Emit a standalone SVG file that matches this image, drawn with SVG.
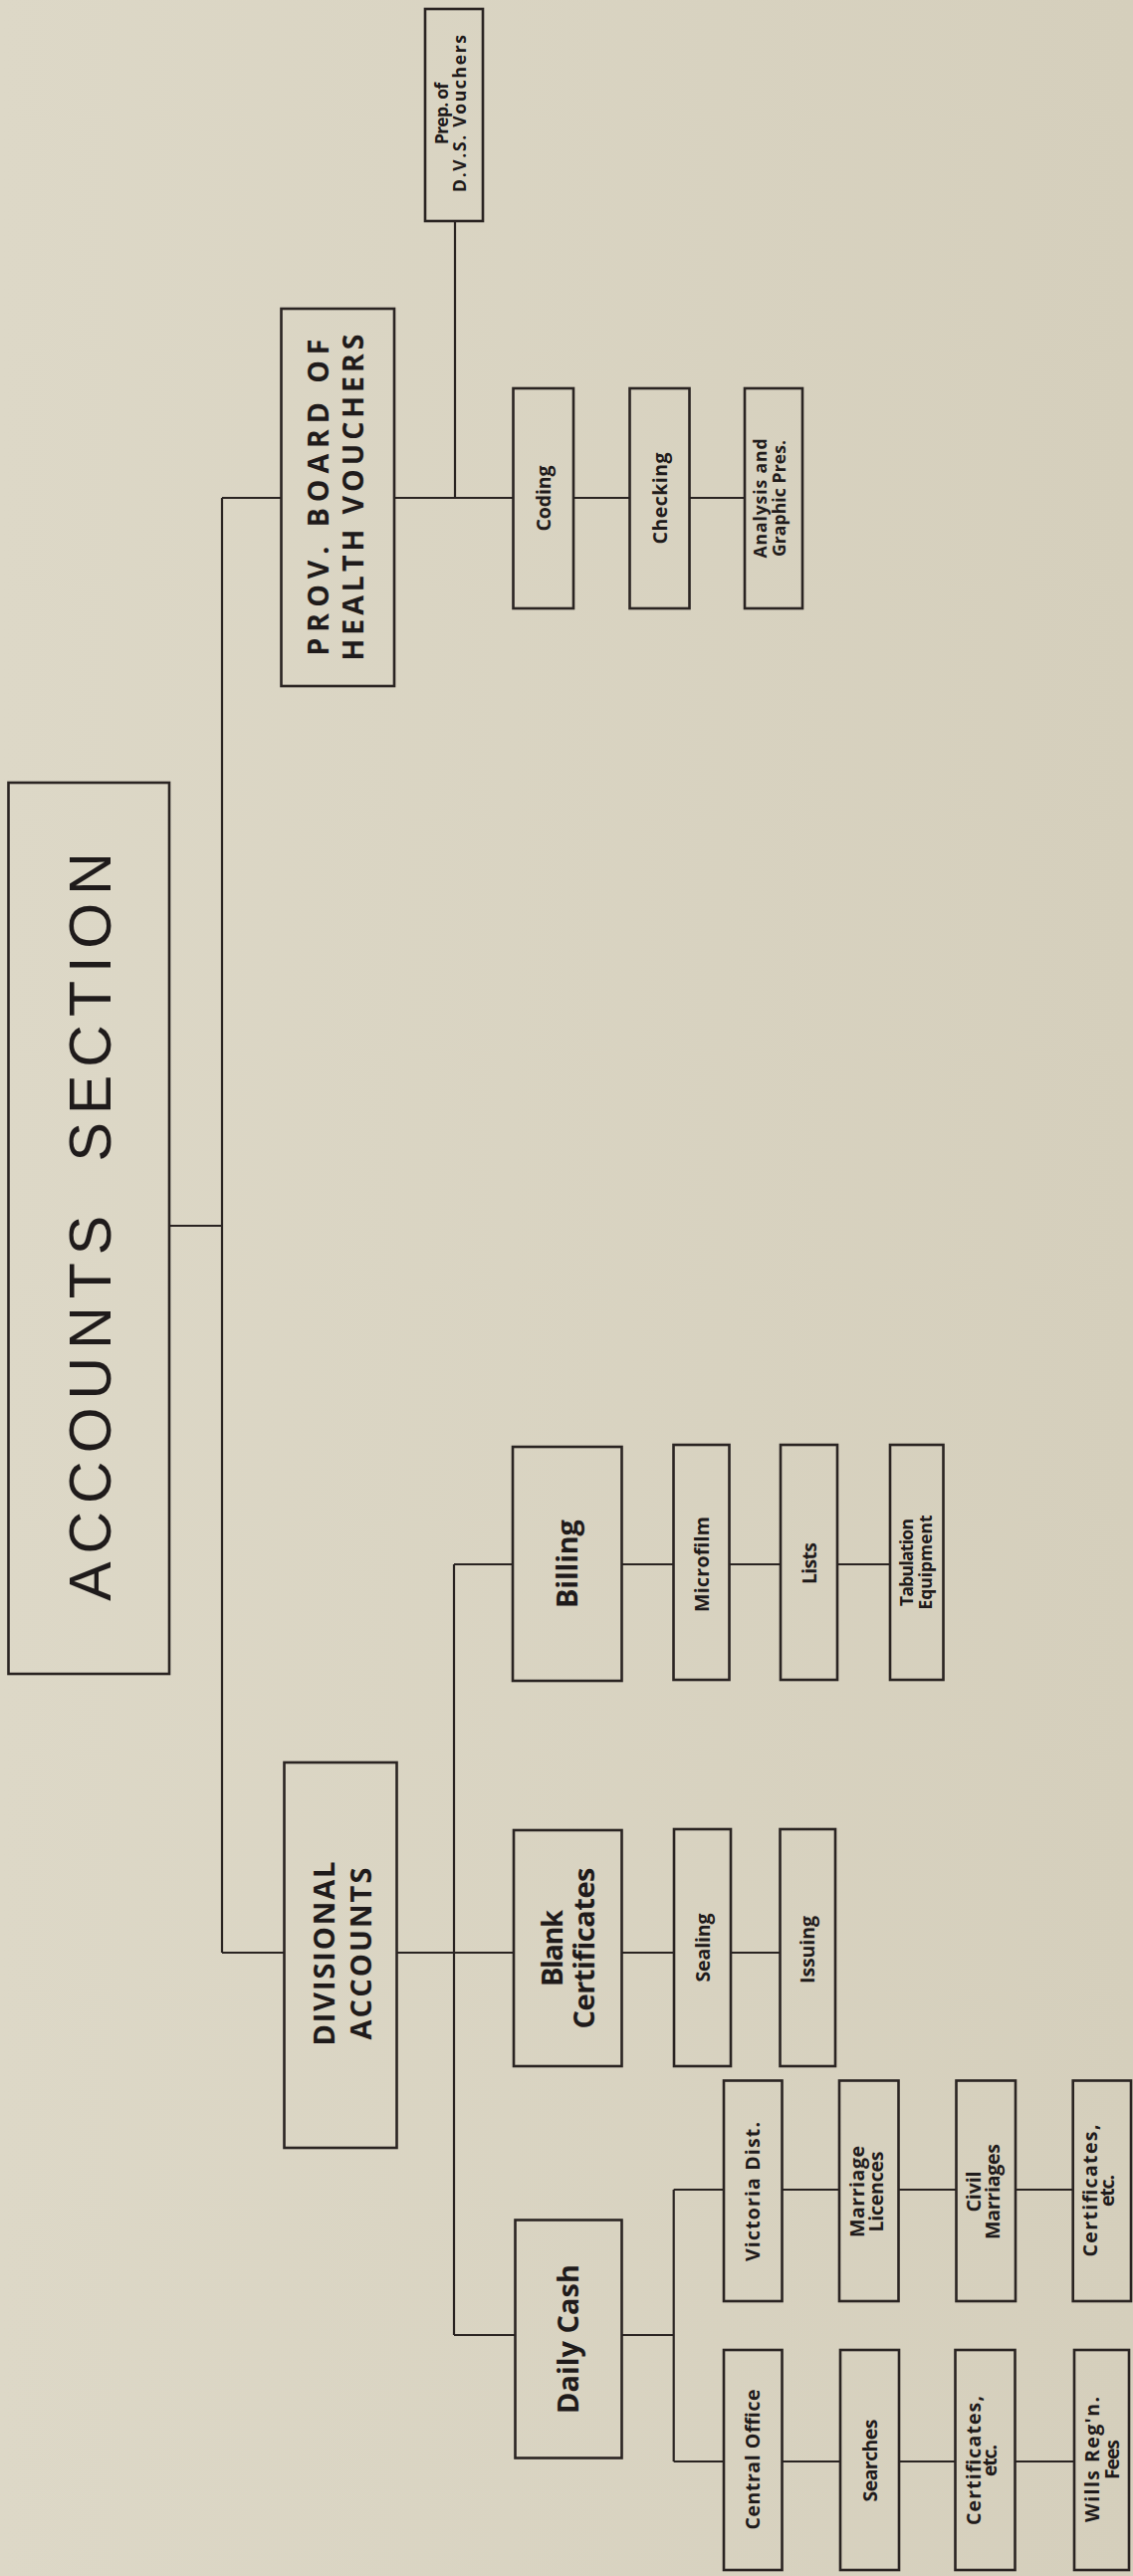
<svg xmlns="http://www.w3.org/2000/svg" width="1138" height="2587" viewBox="0 0 1138 2587">
<defs>
<linearGradient id="paper" x1="0" y1="0" x2="1" y2="0">
<stop offset="0" stop-color="#ddd8c7"/>
<stop offset="1" stop-color="#d5cfbc"/>
</linearGradient>
<style>
.box{fill:none;stroke:#2a2422;stroke-width:2.6}
.ln{fill:none;stroke:#2a2422;stroke-width:2.2}
.t{font-family:"Open Sans","DejaVu Sans",sans-serif;font-weight:700;fill:#1f1b1b;text-anchor:middle}
.s{font-size:19.5px}
.m{font-size:17.5px}
.b{font-size:29px}
.h{font-size:28.5px}
.title{font-family:"Liberation Sans",Arial,sans-serif;font-weight:400;font-size:59px;fill:#1f1b1b;text-anchor:middle;letter-spacing:8px;word-spacing:22px}
</style>
</defs>
<rect x="0" y="0" width="1138" height="2587" fill="url(#paper)"/>

<g id="connectors">
<path class="ln" d="M170 1231 H223 M223 500 V1961"/>
<path class="ln" d="M223 500 H282.5 M396 500 H515.5 M576 500 H632.5 M692.5 500 H748 M457 222 V500"/>
<path class="ln" d="M223 1961 H285.5 M398.5 1961 H516 M456 1571 V2345 M456 1571 H515 M624.5 1571 H676.5 M732.5 1571 H784 M841 1571 H894"/>
<path class="ln" d="M624.5 1961 H677 M734 1961 H783.5"/>
<path class="ln" d="M456 2345 H517.5 M624.5 2345 H676.7 M676.7 2199 V2472 M676.7 2199 H727 M785.5 2199 H843 M902.5 2199 H960.5 M1020 2199 H1077.7 M676.7 2472 H727 M785.5 2472 H844 M903 2472 H959.5 M1019.5 2472 H1079"/>
</g>

<g id="accounts-section">
<rect class="box" x="8.5" y="786" width="161.5" height="895"/>
<text class="title" transform="translate(110.5,1228) rotate(-90)">ACCOUNTS SECTION</text>
</g>

<g id="prov-board">
<rect class="box" x="282.5" y="310" width="113.5" height="379"/>
<text class="t h" transform="translate(329.5,499.5) rotate(-90)"><tspan x="0" y="0" textLength="318">PROV.  BOARD OF</tspan><tspan x="0" y="35" textLength="328">HEALTH VOUCHERS</tspan></text>
</g>

<g id="prep-dvs">
<rect class="box" x="427" y="9" width="58" height="213"/>
<text class="t m" transform="translate(450,114) rotate(-90)"><tspan x="0" y="0" textLength="62">Prep. of</tspan><tspan x="0" y="17.5" textLength="158">D.V.S. Vouchers</tspan></text>
</g>

<g id="coding">
<rect class="box" x="515.5" y="390" width="60.5" height="221"/>
<text class="t s" transform="translate(553,500.5) rotate(-90)" textLength="66">Coding</text>
</g>

<g id="checking">
<rect class="box" x="632.5" y="390" width="60" height="221"/>
<text class="t s" transform="translate(669.5,500.5) rotate(-90)" textLength="92">Checking</text>
</g>

<g id="analysis">
<rect class="box" x="748" y="390" width="58" height="221"/>
<text class="t m" transform="translate(770,500.5) rotate(-90)"><tspan x="0" y="0" textLength="120">Analysis and</tspan><tspan x="0" y="18.5" textLength="117">Graphic Pres.</tspan></text>
</g>

<g id="divisional-accounts">
<rect class="box" x="285.5" y="1770" width="113" height="387"/>
<text class="t b" transform="translate(335.5,1962) rotate(-90)"><tspan x="0" y="0" textLength="185">DIVISIONAL</tspan><tspan x="0" y="37" textLength="173">ACCOUNTS</tspan></text>
</g>

<g id="billing">
<rect class="box" x="515" y="1453" width="109.5" height="235"/>
<text class="t b" transform="translate(580,1570.5) rotate(-90)" textLength="89">Billing</text>
</g>

<g id="microfilm">
<rect class="box" x="676.5" y="1451" width="56" height="236"/>
<text class="t s" transform="translate(711.5,1571) rotate(-90)" textLength="96">Microfilm</text>
</g>

<g id="lists">
<rect class="box" x="784" y="1451" width="57" height="236"/>
<text class="t s" transform="translate(819.5,1570) rotate(-90)" textLength="42">Lists</text>
</g>

<g id="tabulation">
<rect class="box" x="894" y="1451" width="53.5" height="236"/>
<text class="t m" transform="translate(917,1569) rotate(-90)"><tspan x="0" y="0" textLength="88">Tabulation</tspan><tspan x="0" y="18.5" textLength="95">Equipment</tspan></text>
</g>

<g id="blank-certificates">
<rect class="box" x="516" y="1838" width="108.5" height="237"/>
<text class="t b" transform="translate(565,1956.5) rotate(-90)"><tspan x="0" y="0" textLength="77">Blank</tspan><tspan x="0" y="31.5" textLength="162">Certificates</tspan></text>
</g>

<g id="sealing">
<rect class="box" x="677" y="1837" width="57" height="238"/>
<text class="t s" transform="translate(712.5,1956) rotate(-90)" textLength="69">Sealing</text>
</g>

<g id="issuing">
<rect class="box" x="783.5" y="1837" width="55.5" height="238"/>
<text class="t s" transform="translate(818,1958) rotate(-90)" textLength="68">Issuing</text>
</g>

<g id="daily-cash">
<rect class="box" x="517.5" y="2229.5" width="107" height="239"/>
<text class="t b" transform="translate(581,2349) rotate(-90)" textLength="150">Daily Cash</text>
</g>

<g id="victoria-dist">
<rect class="box" x="727" y="2089.5" width="58.5" height="221.5"/>
<text class="t s" transform="translate(763,2201) rotate(-90)" textLength="140">Victoria Dist.</text>
</g>

<g id="marriage-licences">
<rect class="box" x="843" y="2089.5" width="59.5" height="221.5"/>
<text class="t s" transform="translate(867.5,2201) rotate(-90)"><tspan x="0" y="0" textLength="92">Marriage</tspan><tspan x="0" y="19.5" textLength="81">Licences</tspan></text>
</g>

<g id="civil-marriages">
<rect class="box" x="960.5" y="2089.5" width="59.5" height="221.5"/>
<text class="t s" transform="translate(984.5,2201) rotate(-90)"><tspan x="0" y="0" textLength="41">Civil</tspan><tspan x="0" y="19.5" textLength="96">Marriages</tspan></text>
</g>

<g id="certificates-etc-victoria">
<rect class="box" x="1077.7" y="2089.5" width="58.3" height="221.5"/>
<text class="t s" transform="translate(1102,2200) rotate(-90)"><tspan x="0" y="0" textLength="133">Certificates,</tspan><tspan x="0" y="17" textLength="32">etc.</tspan></text>
</g>

<g id="central-office">
<rect class="box" x="727" y="2360" width="58.5" height="221"/>
<text class="t s" transform="translate(763,2470) rotate(-90)" textLength="141">Central Office</text>
</g>

<g id="searches">
<rect class="box" x="844" y="2360" width="59" height="221"/>
<text class="t s" transform="translate(880.5,2471) rotate(-90)" textLength="83">Searches</text>
</g>

<g id="certificates-etc-central">
<rect class="box" x="959.5" y="2360" width="60" height="221"/>
<text class="t s" transform="translate(984.5,2471) rotate(-90)"><tspan x="0" y="0" textLength="130">Certificates,</tspan><tspan x="0" y="16.5" textLength="32">etc.</tspan></text>
</g>

<g id="wills-regn-fees">
<rect class="box" x="1079" y="2360" width="55" height="221"/>
<text class="t s" transform="translate(1104,2470) rotate(-90)"><tspan x="0" y="0" textLength="126">Wills Reg'n.</tspan><tspan x="0" y="19.5" textLength="40">Fees</tspan></text>
</g>
</svg>
